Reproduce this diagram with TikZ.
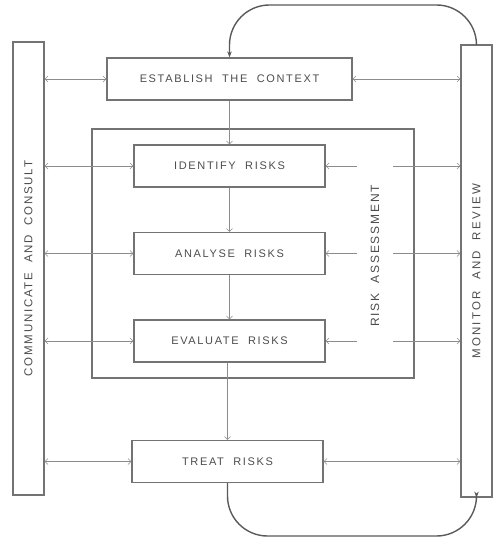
\documentclass[tikz,border=0pt]{standalone}
\usepackage{fontspec}
\setmainfont{Liberation Sans}[LetterSpace=15, WordSpace=2]
\usetikzlibrary{positioning, arrows.meta}

\begin{document}
\begin{tikzpicture}[x=1pt, y=-1pt,
  lbl/.style={font=\fontsize{11}{13}\selectfont, text=black!70},
  vlbl/.style={font=\fontsize{11.5}{13}\selectfont\addfontfeature{LetterSpace=20}, text=black!70},
  box/.style={lbl, draw=black!55, line width=1.2pt, minimum width=191pt, minimum height=42pt},
  bar/.style={vlbl, draw=black!55, line width=1.2pt, minimum width=31pt},
  link/.style={draw=black!45, line width=.6pt, {Straight Barb[length=3pt]}-{Straight Barb[length=3pt]}},
  flow/.style={draw=black!45, line width=.6pt, -{Straight Barb[length=3pt]}},
  loopline/.style={draw=black!65, line width=1.4pt, rounded corners=40pt, -{Stealth[length=6pt]}}]
  \useasboundingbox (0,0) rectangle (494,540);

  %side bars
  \node[bar, font=\fontsize{11.5}{13}\selectfont\addfontfeature{LetterSpace=15}, minimum height=453pt] (comm) at (28.5,268.5)
    {\rotatebox{90}{COMMUNICATE AND CONSULT}};
  \node[bar, minimum height=452pt] (mon) at (476.5,271) {\rotatebox{90}{MONITOR AND REVIEW}};

  %steps
  \node[box, minimum width=245pt] (ctx) at (229.5,79) {ESTABLISH THE CONTEXT};
  \node[draw=black!55, line width=1.2pt, minimum width=322pt, minimum height=249pt] (assess) at (253,253.5) {};
  \node[box] (ident) at (229.5,166) {IDENTIFY RISKS};
  \node[box] (anal) at (229.5,253.5) {ANALYSE RISKS};
  \node[box] (eval) at (229.5,341) {EVALUATE RISKS};
  \node[box] (treat) at (227.5,461.5) {TREAT RISKS};

  %flow down
  \draw[flow] (ctx) -- (ident);
  \draw[flow] (ident) -- (anal);
  \draw[flow] (anal) -- (eval);
  \draw[flow] (eval.south -| treat.north) -- (treat.north);

  %links to the bars
  \foreach \s in {ctx, ident, anal, eval, treat} {
    \draw[link] (comm.east |- \s.west) -- (\s.west);
    \draw[link] (\s.east) -- (\s.east -| mon.west);
  }
  \node[vlbl, font=\fontsize{12}{14}\selectfont\addfontfeature{LetterSpace=15}, fill=white, rotate=90,
    minimum width=190pt, minimum height=36pt] (ralabel) at (375,256) {RISK ASSESSMENT};

  %loops
  \coordinate (looptop) at (350,5);
  \coordinate (loopbot) at (350,536);
  \draw[loopline] (mon.north) |- (looptop) -| (ctx.north);
  \draw[loopline] (treat.south) |- (loopbot) -| (mon.south);
\end{tikzpicture}
\end{document}
